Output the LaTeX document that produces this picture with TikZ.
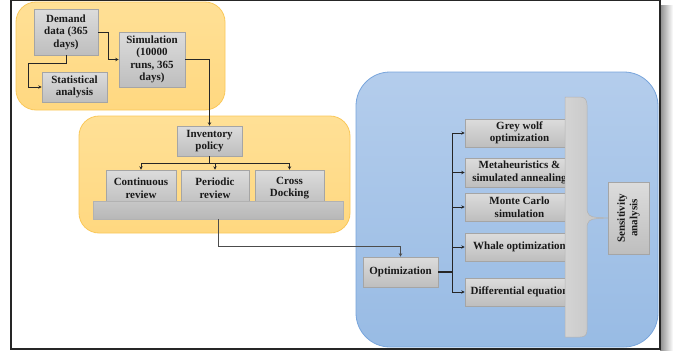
\documentclass[tikz,border=0pt]{standalone}
\usepackage{fontspec}
\setmainfont{Liberation Serif}
\usetikzlibrary{arrows.meta,calc}
\definecolor{orfill}{RGB}{255,216,128}
\definecolor{ortop}{RGB}{255,224,150}
\definecolor{ordraw}{RGB}{250,200,90}
\definecolor{bltop}{RGB}{180,205,236}
\definecolor{blbot}{RGB}{152,187,228}
\definecolor{bldraw}{RGB}{120,165,220}
\definecolor{bxtop}{RGB}{220,220,220}
\definecolor{bxbot}{RGB}{190,190,190}
\definecolor{bxdraw}{RGB}{165,165,165}
\definecolor{ln}{RGB}{38,38,38}
\tikzset{
  x=1pt,y=-1pt,
  panelor/.style={draw=ordraw,line width=0.8pt,top color=ortop,bottom color=orfill,rounded corners=20pt},
  panelbl/.style={draw=bldraw,line width=0.8pt,top color=bltop,bottom color=blbot,rounded corners=34pt},
  box/.style={draw=bxdraw,line width=0.6pt,top color=bxtop,bottom color=bxbot,align=center,
    inner sep=1pt,font=\bfseries\fontsize{11}{12.5}\selectfont,text=black!90},
  conn/.style={draw=ln,line width=0.8pt},
  arr/.style={conn,-{Stealth[length=3.5pt,width=3.5pt]}},
}
\begin{document}
\begin{tikzpicture}
\useasboundingbox (0,0) rectangle (681,351);
% frame and shadow
\shade[left color=black!45,right color=white] (660,5) rectangle (673,351);
\draw[black!85,line width=1.2pt,fill=white] (11,0.6) rectangle (660,349);
% panels
\path[panelor] (16,2) rectangle (225,110);
\path[panelor] (79,116) rectangle (350,233);
\path[panelbl] (356,72) rectangle (658,347);
% top panel nodes
\node[box,minimum width=64pt,minimum height=46pt] (dem) at (66,32) {Demand\\data (365\\days)};
\node[box,minimum width=65pt,minimum height=30pt] (stat) at (74.5,87) {Statistical\\analysis};
\node[box,minimum width=66pt,minimum height=55pt] (sim) at (152,59.5) {Simulation\\(10000\\runs, 365\\days)};
\draw[arr] (dem.east) -- ++(10,0) |- (sim.west);
\draw[arr] (dem.south) -- ++(0,8) -- ++(-38,0) |- (stat.west);
% inventory panel
\node[box,minimum width=65pt,minimum height=30pt] (inv) at (209.5,141) {Inventory\\policy};
\node[box,minimum width=70pt,minimum height=36pt] (cont) at (141,188) {Continuous\\review};
\node[box,minimum width=68pt,minimum height=36pt] (per) at (215,188) {Periodic\\review};
\node[box,minimum width=69pt,minimum height=36pt] (cross) at (289.5,188) {Cross\\Docking};
\node[box,minimum width=250pt,minimum height=18pt,top color=black!22,bottom color=black!28,draw=black!30] (bar) at (218,210) {};
\draw[arr] (sim.east) -| (inv.north);
\draw[conn] (inv.south) -- ++(0,7) coordinate (br);
\draw[arr] (br) -| (cont.north);
\draw[arr] (br) -| (cross.north);
\draw[arr] (br) -| (per.north);
% optimization
\node[box,minimum width=75pt,minimum height=30pt] (opt) at (400.5,272) {Optimization};
\draw[arr,draw=black!70] (bar.south) -- ++(0,27) -| (opt.north);
\node[box,minimum width=109pt,minimum height=28pt] (gw) at (519.5,133) {Grey wolf\\optimization};
\node[box,minimum width=109pt,minimum height=29pt] (meta) at (519.5,172.5) {Metaheuristics \&\\simulated annealing};
\node[box,minimum width=109pt,minimum height=28pt] (mc) at (519.5,207) {Monte Carlo\\simulation};
\node[box,minimum width=109pt,minimum height=28pt] (wh) at (519.5,247) {Whale optimization};
\node[box,minimum width=109pt,minimum height=28pt] (de) at (519.5,292) {Differential equation};
\draw[conn,line width=1.6pt] (opt.east) -- ++(14,0) coordinate (tr);
\draw[conn] (tr |- gw.west) -- (tr |- de.west);
\foreach \n in {gw,meta,mc,wh,de} \draw[arr] (tr |- \n.west) -- (\n.west);
% brace
\path[draw=black!30,line width=0.5pt,left color=black!17,right color=black!24]
  (565,97) -- (580,97) .. controls (585,97) and (587,100) .. (587,105)
  -- (587,208) .. controls (587,215) and (590,217) .. (597,217.4) -- (608,218)
  -- (597,218.6) .. controls (590,219) and (587,221) .. (587,228)
  -- (587,330) .. controls (587,335) and (585,337) .. (580,337) -- (565,337) -- cycle;
\node[box,minimum width=41pt,minimum height=72pt] (sens) at (628.5,218) {};
\node[font=\bfseries\fontsize{11}{12.5}\selectfont,align=center,rotate=90,text=black!90] (senst) at (sens.center) {Sensitivity\\analysis};
\end{tikzpicture}
\end{document}
